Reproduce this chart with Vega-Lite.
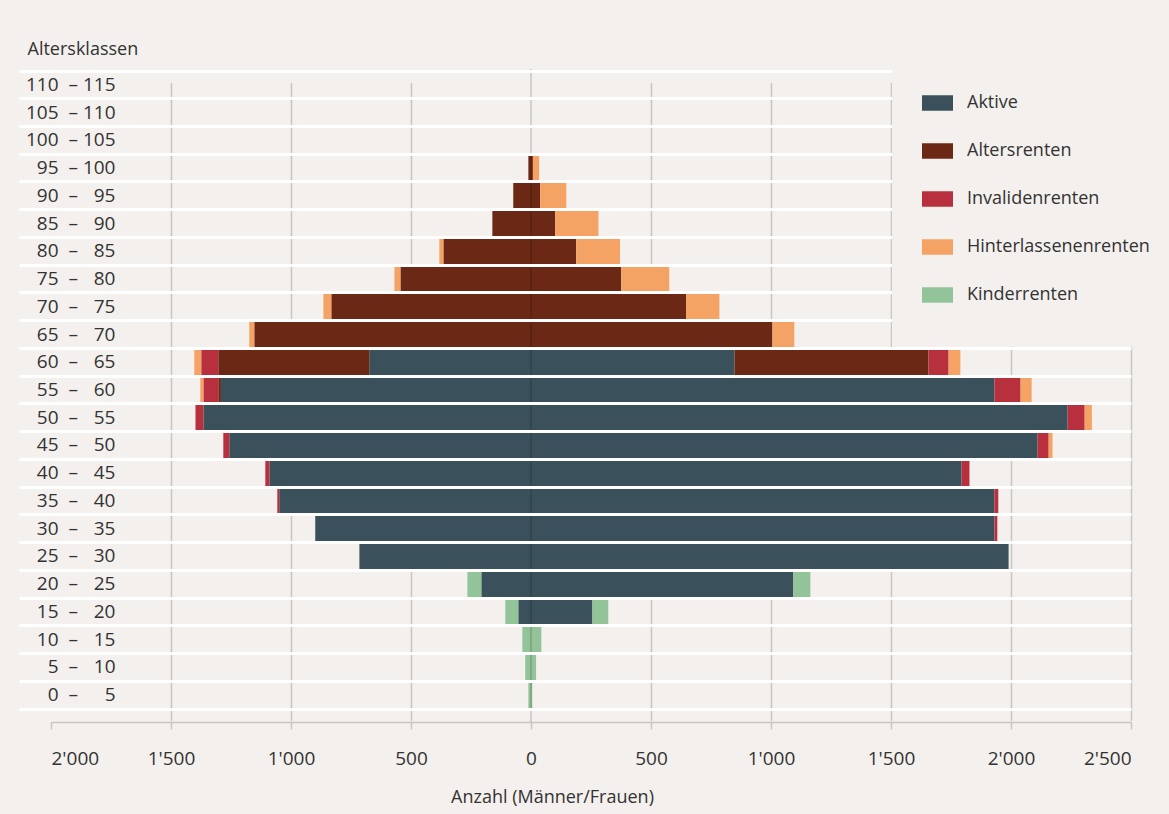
{
  "$schema": "https://vega.github.io/schema/vega-lite/v6.json",
  "width": 1080,
  "height": 653,
  "autosize": {"type": "none"},
  "padding": {"left": 51, "top": 69, "right": 38, "bottom": 92},
  "background": "#f3f0ed",
  "config": {"font": "Open Sans", "view": {"stroke": null}},
  "layer": [
    {
      "data": {
        "values": [
          {"klasse": "95-100", "art": "Altersrenten", "anzahl": -11},
          {"klasse": "95-100", "art": "Altersrenten", "anzahl": 8},
          {"klasse": "95-100", "art": "Hinterlassenenrenten", "anzahl": 26},
          {"klasse": "90-95", "art": "Altersrenten", "anzahl": -74},
          {"klasse": "90-95", "art": "Altersrenten", "anzahl": 38},
          {"klasse": "90-95", "art": "Hinterlassenenrenten", "anzahl": 109},
          {"klasse": "85-90", "art": "Altersrenten", "anzahl": -161},
          {"klasse": "85-90", "art": "Altersrenten", "anzahl": 101},
          {"klasse": "85-90", "art": "Hinterlassenenrenten", "anzahl": 180},
          {"klasse": "80-85", "art": "Altersrenten", "anzahl": -365},
          {"klasse": "80-85", "art": "Hinterlassenenrenten", "anzahl": -17},
          {"klasse": "80-85", "art": "Altersrenten", "anzahl": 188},
          {"klasse": "80-85", "art": "Hinterlassenenrenten", "anzahl": 183},
          {"klasse": "75-80", "art": "Altersrenten", "anzahl": -544},
          {"klasse": "75-80", "art": "Hinterlassenenrenten", "anzahl": -25},
          {"klasse": "75-80", "art": "Altersrenten", "anzahl": 376},
          {"klasse": "75-80", "art": "Hinterlassenenrenten", "anzahl": 200},
          {"klasse": "70-75", "art": "Altersrenten", "anzahl": -832},
          {"klasse": "70-75", "art": "Hinterlassenenrenten", "anzahl": -33},
          {"klasse": "70-75", "art": "Altersrenten", "anzahl": 646},
          {"klasse": "70-75", "art": "Hinterlassenenrenten", "anzahl": 139},
          {"klasse": "65-70", "art": "Altersrenten", "anzahl": -1153},
          {"klasse": "65-70", "art": "Hinterlassenenrenten", "anzahl": -21},
          {"klasse": "65-70", "art": "Altersrenten", "anzahl": 1006},
          {"klasse": "65-70", "art": "Hinterlassenenrenten", "anzahl": 91},
          {"klasse": "60-65", "art": "Aktive", "anzahl": -674},
          {"klasse": "60-65", "art": "Altersrenten", "anzahl": -629},
          {"klasse": "60-65", "art": "Invalidenrenten", "anzahl": -71},
          {"klasse": "60-65", "art": "Hinterlassenenrenten", "anzahl": -29},
          {"klasse": "60-65", "art": "Aktive", "anzahl": 848},
          {"klasse": "60-65", "art": "Altersrenten", "anzahl": 808},
          {"klasse": "60-65", "art": "Invalidenrenten", "anzahl": 84},
          {"klasse": "60-65", "art": "Hinterlassenenrenten", "anzahl": 49},
          {"klasse": "55-60", "art": "Aktive", "anzahl": -1292},
          {"klasse": "55-60", "art": "Altersrenten", "anzahl": -11},
          {"klasse": "55-60", "art": "Invalidenrenten", "anzahl": -62},
          {"klasse": "55-60", "art": "Hinterlassenenrenten", "anzahl": -13},
          {"klasse": "55-60", "art": "Aktive", "anzahl": 1931},
          {"klasse": "55-60", "art": "Invalidenrenten", "anzahl": 109},
          {"klasse": "55-60", "art": "Hinterlassenenrenten", "anzahl": 46},
          {"klasse": "50-55", "art": "Aktive", "anzahl": -1365},
          {"klasse": "50-55", "art": "Invalidenrenten", "anzahl": -33},
          {"klasse": "50-55", "art": "Aktive", "anzahl": 2236},
          {"klasse": "50-55", "art": "Invalidenrenten", "anzahl": 71},
          {"klasse": "50-55", "art": "Hinterlassenenrenten", "anzahl": 30},
          {"klasse": "45-50", "art": "Aktive", "anzahl": -1257},
          {"klasse": "45-50", "art": "Invalidenrenten", "anzahl": -25},
          {"klasse": "45-50", "art": "Aktive", "anzahl": 2111},
          {"klasse": "45-50", "art": "Invalidenrenten", "anzahl": 46},
          {"klasse": "45-50", "art": "Hinterlassenenrenten", "anzahl": 16},
          {"klasse": "40-45", "art": "Aktive", "anzahl": -1090},
          {"klasse": "40-45", "art": "Invalidenrenten", "anzahl": -17},
          {"klasse": "40-45", "art": "Aktive", "anzahl": 1794},
          {"klasse": "40-45", "art": "Invalidenrenten", "anzahl": 33},
          {"klasse": "35-40", "art": "Aktive", "anzahl": -1049},
          {"klasse": "35-40", "art": "Invalidenrenten", "anzahl": -8},
          {"klasse": "35-40", "art": "Aktive", "anzahl": 1931},
          {"klasse": "35-40", "art": "Invalidenrenten", "anzahl": 16},
          {"klasse": "30-35", "art": "Aktive", "anzahl": -899},
          {"klasse": "30-35", "art": "Aktive", "anzahl": 1931},
          {"klasse": "30-35", "art": "Invalidenrenten", "anzahl": 12},
          {"klasse": "25-30", "art": "Aktive", "anzahl": -715},
          {"klasse": "25-30", "art": "Aktive", "anzahl": 1990},
          {"klasse": "20-25", "art": "Aktive", "anzahl": -207},
          {"klasse": "20-25", "art": "Kinderrenten", "anzahl": -58},
          {"klasse": "20-25", "art": "Aktive", "anzahl": 1093},
          {"klasse": "20-25", "art": "Kinderrenten", "anzahl": 71},
          {"klasse": "15-20", "art": "Aktive", "anzahl": -53},
          {"klasse": "15-20", "art": "Kinderrenten", "anzahl": -54},
          {"klasse": "15-20", "art": "Aktive", "anzahl": 256},
          {"klasse": "15-20", "art": "Kinderrenten", "anzahl": 66},
          {"klasse": "10-15", "art": "Kinderrenten", "anzahl": -36},
          {"klasse": "10-15", "art": "Kinderrenten", "anzahl": 43},
          {"klasse": "5-10", "art": "Kinderrenten", "anzahl": -24},
          {"klasse": "5-10", "art": "Kinderrenten", "anzahl": 21},
          {"klasse": "0-5", "art": "Kinderrenten", "anzahl": -11},
          {"klasse": "0-5", "art": "Kinderrenten", "anzahl": 5}
        ]
      },
      "transform": [
        {"calculate": "indexof(['Aktive','Altersrenten','Invalidenrenten','Hinterlassenenrenten','Kinderrenten'], datum.art)", "as": "rang"}
      ],
      "mark": {"type": "bar"},
      "encoding": {
        "y": {
          "field": "klasse",
          "type": "nominal",
          "scale": {
            "domain": ["110-115","105-110","100-105","95-100","90-95","85-90","80-85","75-80","70-75","65-70","60-65","55-60","50-55","45-50","40-45","35-40","30-35","25-30","20-25","15-20","10-15","5-10","0-5"],
            "range": [1.5, 639.5],
            "paddingInner": 0,
            "paddingOuter": 0
          },
          "axis": {
            "title": "Altersklassen",
            "titleAngle": 0,
            "titleX": -24,
            "titleY": -15,
            "titleAlign": "left",
            "titleBaseline": "alphabetic",
            "titleFontSize": 18,
            "titleFontWeight": "normal",
            "titleColor": "#333333",
            "domain": false,
            "ticks": true,
            "tickColor": "#ffffff",
            "tickWidth": 3,
            "tickSize": 32,
            "tickBand": "extent",
            "grid": true,
            "gridColor": "#ffffff",
            "gridWidth": 3,
            "gridOpacity": 1,
            "zindex": 1,
            "labelAlign": "right",
            "labelPadding": -96,
            "labelFontSize": 19,
            "labelColor": "#333333",
            "labelExpr": "isString(datum.value) && indexof(datum.value, '-') > 0 ? split(datum.value, '-')[0] + '\u00a0 – ' + pad(split(datum.value, '-')[1], 3, '\u2007', 'left') : ''"
          }
        },
        "x": {
          "field": "anzahl",
          "type": "quantitative",
          "stack": "zero",
          "scale": {"domain": [-2000, 2500], "nice": false, "zero": false},
          "axis": {
            "title": "Anzahl (Männer/Frauen)",
            "titleX": 501,
            "titleY": 80,
            "titleAlign": "center",
            "titleBaseline": "alphabetic",
            "titleFontSize": 18,
            "titleFontWeight": "normal",
            "titleColor": "#333333",
            "values": [-2000, -1500, -1000, -500, 0, 500, 1000, 1500, 2000, 2500],
            "labelExpr": "replace(format(abs(datum.value), ','), ',', \"'\")",
            "labelFontSize": 19,
            "labelColor": "#333333",
            "labelPadding": 20,
            "domain": true,
            "domainColor": "#cbc4bf",
            "domainWidth": 1.5,
            "ticks": true,
            "tickColor": "#cbc4bf",
            "tickWidth": 1.5,
            "tickSize": 7,
            "grid": true,
            "gridColor": "#cbc4bf",
            "gridWidth": 1.5,
            "gridOpacity": {"condition": {"test": "datum.value === 0 || datum.value === -2000", "value": 0}, "value": 1},
            "zindex": 0
          }
        },
        "color": {
          "field": "art",
          "type": "nominal",
          "scale": {
            "domain": ["Aktive", "Altersrenten", "Invalidenrenten", "Hinterlassenenrenten", "Kinderrenten"],
            "range": ["#3a515c", "#6b2915", "#b8303d", "#f5a364", "#93c398"]
          },
          "legend": {
            "orient": "none",
            "legendX": 841,
            "legendY": -23.5,
            "zindex": 3,
            "title": null,
            "direction": "vertical",
            "symbolType": "M-1,-0.5H1V0.5H-1Z",
            "symbolSize": 961,
            "symbolStrokeWidth": 0,
            "symbolOpacity": 1,
            "symbolOffset": -12,
            "labelFontSize": 18,
            "labelColor": "#333333",
            "labelOffset": 14,
            "labelLimit": 400,
            "rowPadding": 23,
            "padding": 42,
            "fillColor": "#f3f0ed"
          }
        },
        "order": {"field": "rang", "type": "quantitative"}
      }
    },
    {
      "data": {"values": [{}]},
      "mark": {"type": "rule", "color": "#000000", "opacity": 0.18, "strokeWidth": 1.5},
      "encoding": {"x": {"datum": 0}}
    }
  ]
}
